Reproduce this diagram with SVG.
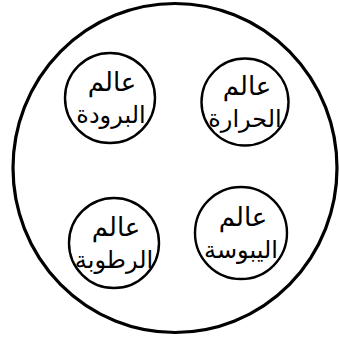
<svg xmlns="http://www.w3.org/2000/svg" width="339" height="339" viewBox="0 0 339 339">
<style>
.c{fill:none;stroke:#000;stroke-width:2.4}
.t{font-family:"DejaVu Sans","Noto Sans",sans-serif;font-size:26px;fill:#000;text-anchor:middle;direction:rtl}
.s{font-size:24px}
</style>
<rect width="339" height="339" fill="#fff"/>
<ellipse id="outer" cx="175" cy="168" rx="162" ry="164.5" fill="none" stroke="#000" stroke-width="3.2"/>
<g id="cold">
<circle class="c" cx="110" cy="98" r="45"/>
<text class="t" x="112" y="91">عالم</text>
<text class="t s" x="111" y="123">البرودة</text>
</g>
<g id="heat">
<circle class="c" cx="245" cy="102" r="43.5"/>
<text class="t" x="247" y="95">عالم</text>
<text class="t s" x="245" y="127">الحرارة</text>
</g>
<g id="moisture">
<circle class="c" cx="114" cy="243" r="45"/>
<text class="t" x="116" y="236">عالم</text>
<text class="t s" x="114" y="268">الرطوبة</text>
</g>
<g id="dryness">
<circle class="c" cx="241" cy="233" r="46"/>
<text class="t" x="243" y="226">عالم</text>
<text class="t s" x="241" y="258">اليبوسة</text>
</g>
<g id="connectors"></g>
</svg>
